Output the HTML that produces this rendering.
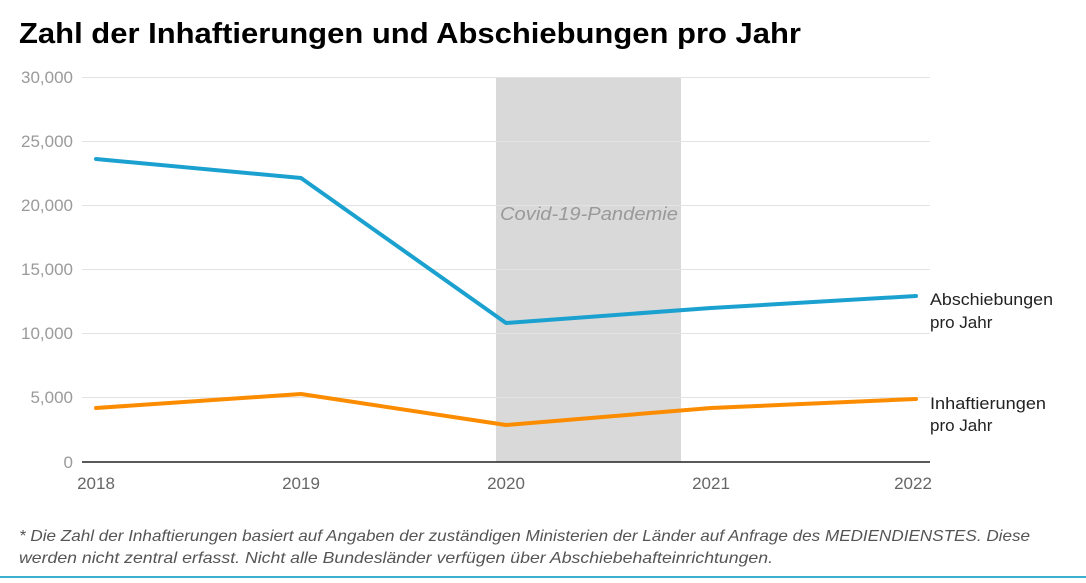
<!DOCTYPE html>
<html><head><meta charset="utf-8"><style>
body{margin:0;width:1086px;height:578px;background:#fff;overflow:hidden;font-family:"Liberation Sans",sans-serif;}
</style></head><body>
<svg width="1086" height="578" xmlns="http://www.w3.org/2000/svg" font-family="Liberation Sans, sans-serif">
<text x="19" y="43" font-size="29" font-weight="bold" fill="#000" textLength="782" lengthAdjust="spacingAndGlyphs">Zahl der Inhaftierungen und Abschiebungen pro Jahr</text>
<rect x="496" y="77" width="185" height="385" fill="#d9d9d9"/>
<g stroke="#e3e3e3" stroke-width="1">
<line x1="82" x2="930" y1="77.5" y2="77.5"/><line x1="82" x2="930" y1="141.5" y2="141.5"/>
<line x1="82" x2="930" y1="205.5" y2="205.5"/><line x1="82" x2="930" y1="269.5" y2="269.5"/>
<line x1="82" x2="930" y1="333.5" y2="333.5"/><line x1="82" x2="930" y1="397.5" y2="397.5"/>
</g>
<line x1="82" x2="930" y1="462" y2="462" stroke="#222" stroke-width="1.5"/>
<g font-size="17" fill="#9a9a9a" text-anchor="end">
<text x="73" y="83">30,000</text><text x="73" y="147">25,000</text><text x="73" y="211">20,000</text>
<text x="73" y="275">15,000</text><text x="73" y="339">10,000</text><text x="73" y="403">5,000</text><text x="73" y="468">0</text>
</g>
<g font-size="17" fill="#666" text-anchor="middle">
<text x="96" y="489">2018</text><text x="301" y="489">2019</text><text x="506" y="489">2020</text><text x="711" y="489">2021</text><text x="913" y="489">2022</text>
</g>
<text x="500" y="220" font-size="18" font-style="italic" fill="#999" textLength="178" lengthAdjust="spacingAndGlyphs">Covid-19-Pandemie</text>
<polyline points="96,159 301,178 506,323 711,308 916,296" fill="none" stroke="#1ba1cf" stroke-width="4" stroke-linejoin="round" stroke-linecap="round"/>
<polyline points="96,408 301,394 506,425 711,408 916,399" fill="none" stroke="#fb8c00" stroke-width="4" stroke-linejoin="round" stroke-linecap="round"/>
<g font-size="17" fill="#222">
<text x="930" y="305" textLength="123" lengthAdjust="spacingAndGlyphs">Abschiebungen</text><text x="930" y="328">pro Jahr</text>
<text x="930" y="409" textLength="116" lengthAdjust="spacingAndGlyphs">Inhaftierungen</text><text x="930" y="431">pro Jahr</text>
</g>
<g font-size="16" font-style="italic" fill="#555">
<text x="19" y="541" textLength="1011" lengthAdjust="spacingAndGlyphs">* Die Zahl der Inhaftierungen basiert auf Angaben der zuständigen Ministerien der Länder auf Anfrage des MEDIENDIENSTES. Diese</text>
<text x="19" y="563" textLength="754" lengthAdjust="spacingAndGlyphs">werden nicht zentral erfasst. Nicht alle Bundesländer verfügen über Abschiebehafteinrichtungen.</text>
</g>
<rect x="0" y="576" width="1086" height="2" fill="#3ab0cc"/>
</svg>
</body></html>
